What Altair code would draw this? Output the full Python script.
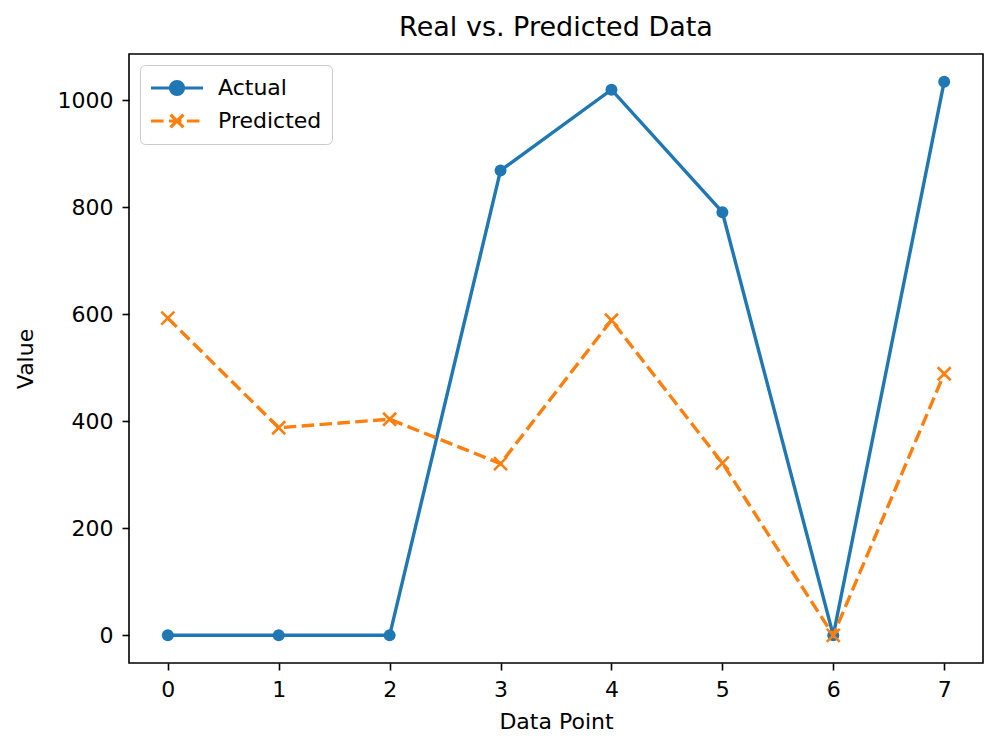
import altair as alt
import pandas as pd

# Values per data point
data_point = [0, 1, 2, 3, 4, 5, 6, 7]
actual = [0, 0, 0, 869, 1020, 791, 0, 1035]
predicted = [593, 388, 404, 321, 589, 322, 0, 489]
series_names = ["Actual", "Predicted"]
x_ticks = [0, 1, 2, 3, 4, 5, 6, 7]
y_ticks = [0, 200, 400, 600, 800, 1000]

df = pd.DataFrame({
    "Data Point": data_point + data_point,
    "Value": actual + predicted,
    "Series": [series_names[0]] * len(actual) + [series_names[1]] * len(predicted),
})

FONT = "DejaVu Sans"
BLUE = "#1f77b4"
ORANGE = "#ff7f0e"
LINE_W = 3.4
X_MARK = "M-1,-1L1,1M-1,1L1,-1"

# legend glyphs (unit = 11 px): a line segment with its marker on top
LEG_ACTUAL = ("M-2.36,0L2.36,0"
              "M0.59,0A0.59,0.59,0,1,1,-0.59,0A0.59,0.59,0,1,1,0.59,0Z")
LEG_PRED = ("M-2.36,0L-1.22,0M-0.73,0L0.41,0M0.90,0L2.04,0"
            "M-0.59,-0.59L0.59,0.59M-0.59,0.59L0.59,-0.59")

x_enc = alt.X("Data Point:Q",
              scale=alt.Scale(domain=[-0.35, 7.35], nice=False, zero=False),
              axis=alt.Axis(values=x_ticks, format="d", title="Data Point"))
y_enc = alt.Y("Value:Q",
              scale=alt.Scale(domain=[-51.75, 1086.75], nice=False, zero=False),
              axis=alt.Axis(values=y_ticks, format="d", title="Value"))

series_scale = alt.Scale(domain=series_names, range=[BLUE, ORANGE])

base = alt.Chart(df)

act_line = base.transform_filter(alt.datum.Series == "Actual").mark_line(
    strokeWidth=LINE_W, color=BLUE
).encode(x=x_enc, y=y_enc)
act_pts = base.transform_filter(alt.datum.Series == "Actual").mark_point(
    shape="circle", filled=True, size=143, opacity=1, color=BLUE
).encode(x=x_enc, y=y_enc)

pred_line = base.transform_filter(alt.datum.Series == "Predicted").mark_line(
    strokeWidth=LINE_W, strokeDash=[12.5, 5.4], color=ORANGE
).encode(x=x_enc, y=y_enc)
pred_pts = base.transform_filter(alt.datum.Series == "Predicted").mark_point(
    shape=X_MARK, filled=False, size=169, strokeWidth=2.6, opacity=1, color=ORANGE
).encode(x=x_enc, y=y_enc)

# key layer: draws no data marks, only supplies the legend entries
key = base.transform_filter("false").mark_point(
    filled=True, size=484, strokeWidth=3.2, opacity=1
).encode(
    x=x_enc, y=y_enc,
    color=alt.Color("Series:N", scale=series_scale, legend=alt.Legend(title=None)),
    stroke=alt.Stroke("Series:N", scale=series_scale, legend=alt.Legend(title=None)),
    shape=alt.Shape("Series:N",
                    scale=alt.Scale(domain=series_names, range=[LEG_ACTUAL, LEG_PRED]),
                    legend=alt.Legend(title=None)),
)

chart = alt.layer(act_line, act_pts, pred_line, pred_pts, key).properties(
    width=854,
    height=609,
    title=alt.Title("Real vs. Predicted Data", font=FONT, fontSize=27,
                    fontWeight="normal", color="black", offset=12),
    autosize=alt.AutoSizeParams(type="none"),
    padding={"left": 129, "top": 54, "right": 17, "bottom": 87},
).configure_view(
    stroke="black", strokeWidth=1.6
).configure_axis(
    grid=False,
    domain=False,
    tickColor="black",
    tickSize=7,
    tickWidth=1.6,
    labelFont=FONT,
    labelFontSize=22,
    labelColor="black",
    titleFont=FONT,
    titleFontSize=22,
    titleFontWeight="normal",
    titleColor="black",
).configure_axisY(
    labelPadding=9,
    titlePadding=20,
).configure_axisX(
    labelPadding=9,
    titlePadding=11,
).configure_legend(
    orient="top-left",
    offset=11,
    padding=10,
    strokeColor="#cccccc",
    fillColor="white",
    cornerRadius=5,
    labelFont=FONT,
    labelFontSize=22,
    labelColor="black",
    symbolSize=484,
    symbolOffset=14,
    symbolStrokeWidth=3.2,
    symbolOpacity=1,
    rowPadding=7,
    labelOffset=28,
)

chart.save("out.html", embed_options={"renderer": "svg", "actions": False})
